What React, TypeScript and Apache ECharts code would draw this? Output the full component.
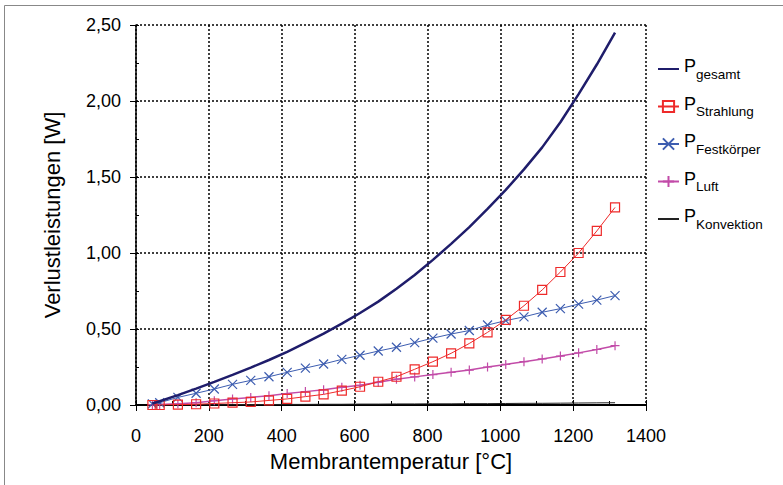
import React, { useEffect, useRef } from "react";
import * as echarts from "echarts";

// Membrane temperature [°C]
const temps = [45, 65, 115, 165, 215, 265, 315, 365, 415, 465, 515, 565, 615, 665, 715, 765, 815, 865, 915, 965, 1015, 1065, 1115, 1165, 1215, 1265, 1315];

// Loss powers [W]
const pGesamt = [0.01, 0.025, 0.065, 0.108, 0.152, 0.198, 0.246, 0.296, 0.35, 0.408, 0.47, 0.535, 0.605, 0.68, 0.765, 0.855, 0.955, 1.06, 1.17, 1.29, 1.415, 1.55, 1.695, 1.86, 2.045, 2.24, 2.45];
const pStrahlung = [0.0, 0.0, 0.002, 0.005, 0.01, 0.015, 0.02, 0.03, 0.04, 0.055, 0.07, 0.094, 0.12, 0.153, 0.186, 0.235, 0.285, 0.34, 0.405, 0.478, 0.56, 0.653, 0.757, 0.875, 1.0, 1.145, 1.3];
const pFestkoerper = [0.007, 0.015, 0.05, 0.077, 0.105, 0.136, 0.162, 0.186, 0.215, 0.243, 0.27, 0.3, 0.327, 0.355, 0.38, 0.41, 0.44, 0.467, 0.49, 0.526, 0.555, 0.58, 0.61, 0.634, 0.664, 0.69, 0.72];
const pLuft = [0.002, 0.004, 0.008, 0.015, 0.028, 0.04, 0.05, 0.061, 0.075, 0.088, 0.1, 0.116, 0.13, 0.15, 0.17, 0.185, 0.2, 0.215, 0.23, 0.25, 0.267, 0.285, 0.303, 0.322, 0.343, 0.365, 0.39];
const pKonvektion = [0.0, 0.0, 0.001, 0.001, 0.002, 0.002, 0.003, 0.003, 0.004, 0.004, 0.005, 0.005, 0.006, 0.006, 0.007, 0.007, 0.008, 0.008, 0.009, 0.009, 0.01, 0.011, 0.011, 0.012, 0.013, 0.014, 0.015];

const subscripts = ["gesamt", "Strahlung", "Festkörper", "Luft", "Konvektion"];
const lineOnly = ["gesamt", "Konvektion"];
const xAxisTitle = "Membrantemperatur [°C]";
const yAxisTitle = "Verlustleistungen [W]";

const FONT = "'Liberation Sans', Arial, sans-serif";

const pairs = (ys: number[]) => temps.map((t, i) => [t, ys[i]]);

const C_GESAMT = "#1f1d6b";
const C_STRAHLUNG = "#ee2a2a";
const C_FEST = "#3d5db0";
const C_LUFT = "#c24ba8";
const C_KONV = "#222222";

export default function App() {
  const ref = useRef<HTMLDivElement>(null);
  useEffect(() => {
    if (!ref.current) return;
    const chart = echarts.init(ref.current, null, { renderer: "svg" });
    const option: any = {
      animation: false,
      backgroundColor: "#ffffff",
      textStyle: { fontFamily: FONT },
      grid: { left: 136, right: 137, top: 25, bottom: 80, containLabel: false },
      graphic: [
        {
          type: "rect",
          silent: true,
          shape: { x: 4.5, y: 5.5, width: 800, height: 500 },
          style: { fill: "none", stroke: "#888", lineWidth: 1 },
          z: -10,
        },
      ],
      legend: {
        orient: "vertical",
        left: 652,
        top: 52,
        itemGap: 13.5,
        itemWidth: 21,
        itemHeight: 14,
        selectedMode: false,
        data: subscripts.map((n) =>
          lineOnly.indexOf(n) >= 0 ? { name: n, itemStyle: { opacity: 0 } } : { name: n }
        ),
        formatter: (n: string) => `{p|P}{s|${n}}{z| }`,
        textStyle: {
          color: "#000",
          fontFamily: FONT,
          rich: {
            p: { fontSize: 18, lineHeight: 20, verticalAlign: "top", fontFamily: FONT, color: "#000" },
            s: { fontSize: 13.5, lineHeight: 18, verticalAlign: "bottom", fontFamily: FONT, color: "#000" },
            z: { fontSize: 2, lineHeight: 24, fontFamily: FONT },
          },
        },
      },
      xAxis: [
        {
          type: "value",
          min: 0,
          max: 1400,
          interval: 200,
          position: "bottom",
          name: xAxisTitle,
          nameLocation: "middle",
          nameGap: 45,
          nameTextStyle: { fontSize: 22, color: "#000", fontFamily: FONT },
          axisLine: { show: true, onZero: false, lineStyle: { color: "#000", width: 2 } },
          axisTick: { show: true, length: 6, lineStyle: { color: "#000", width: 1 } },
          axisLabel: { fontSize: 18, color: "#000", margin: 22, fontFamily: FONT, formatter: (v: number) => String(v) },
          splitLine: { show: true, lineStyle: { color: "#000", width: 1.5, type: [2, 2] } },
        },
        {
          type: "value",
          min: 0,
          max: 1400,
          interval: 200,
          position: "bottom",
          axisLine: { show: false },
          axisTick: { show: true, inside: true, length: 5, lineStyle: { color: "#000", width: 1 } },
          minorTick: { show: true, splitNumber: 2, length: 4, lineStyle: { color: "#000", width: 1 } },
          axisLabel: { show: false },
          splitLine: { show: false },
        },
      ],
      yAxis: [
        {
          type: "value",
          min: 0,
          max: 2.5,
          interval: 0.5,
          position: "left",
          name: yAxisTitle,
          nameLocation: "middle",
          nameGap: 73,
          nameTextStyle: { fontSize: 22, color: "#000", fontFamily: FONT },
          axisLine: { show: true, onZero: false, lineStyle: { color: "#000", width: 1.5 } },
          axisTick: { show: true, length: 6, lineStyle: { color: "#000", width: 1 } },
          axisLabel: {
            fontSize: 18,
            color: "#000",
            margin: 15,
            fontFamily: FONT,
            formatter: (v: number) => v.toFixed(2).replace(".", ","),
          },
          splitLine: { show: true, lineStyle: { color: "#000", width: 1.5, type: [2, 2] } },
        },
        {
          type: "value",
          min: 0,
          max: 2.5,
          interval: 0.5,
          position: "left",
          axisLine: { show: false },
          axisTick: { show: true, inside: true, length: 3, lineStyle: { color: "#000", width: 1 } },
          minorTick: { show: true, splitNumber: 2, length: 3, lineStyle: { color: "#000", width: 1 } },
          axisLabel: { show: false },
          splitLine: { show: false },
        },
      ],
      series: [
        {
          name: "Konvektion",
          type: "line",
          data: pairs(pKonvektion),
          symbol: "none",
          color: C_KONV,
          lineStyle: { color: C_KONV, width: 1 },
          z: 3,
        },
        {
          name: "Luft",
          type: "line",
          data: pairs(pLuft),
          symbol: "path://M5,0L5,10M0,5L10,5",
          symbolSize: 9,
          color: C_LUFT,
          itemStyle: { color: "transparent", borderColor: C_LUFT, borderWidth: 1.2 },
          lineStyle: { color: C_LUFT, width: 1.5 },
          z: 4,
        },
        {
          name: "Festkörper",
          type: "line",
          data: pairs(pFestkoerper),
          symbol: "path://M0,0L10,10M10,0L0,10",
          symbolSize: 9,
          color: C_FEST,
          itemStyle: { color: "transparent", borderColor: C_FEST, borderWidth: 1.2 },
          lineStyle: { color: C_FEST, width: 1 },
          z: 5,
        },
        {
          name: "Strahlung",
          type: "line",
          data: pairs(pStrahlung),
          symbol: "path://M0,0L10,0L10,10L0,10Z",
          symbolSize: 9,
          color: C_STRAHLUNG,
          itemStyle: { color: "transparent", borderColor: C_STRAHLUNG, borderWidth: 1.2 },
          lineStyle: { color: C_STRAHLUNG, width: 1 },
          z: 6,
        },
        {
          name: "gesamt",
          type: "line",
          data: pairs(pGesamt),
          symbol: "none",
          color: C_GESAMT,
          lineStyle: { color: C_GESAMT, width: 2.5 },
          z: 7,
        },
      ],
    };
    chart.setOption(option);
    return () => chart.dispose();
  }, []);
  return (
    <div
      ref={ref}
      style={{ position: "absolute", left: 0, top: 0, width: 783, height: 485, background: "#fff" }}
    />
  );
}
